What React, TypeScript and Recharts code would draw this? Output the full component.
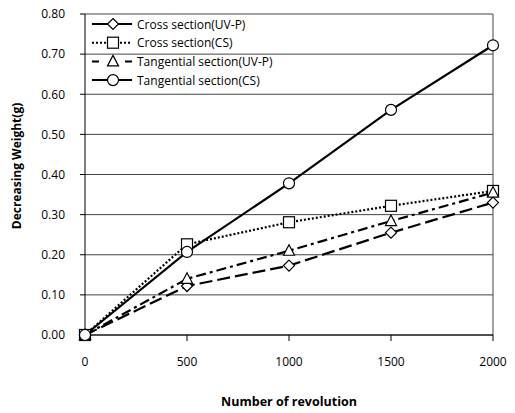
import React from 'react';
import { LineChart, Line, XAxis, YAxis, CartesianGrid, Legend, ReferenceLine } from 'recharts';

const revolutions = [0, 500, 1000, 1500, 2000];
const crossUvp = [0, 0.122, 0.173, 0.255, 0.33];
const crossCs = [0, 0.226, 0.281, 0.322, 0.359];
const tangUvp = [0, 0.14, 0.21, 0.284, 0.355];
const tangCs = [0, 0.207, 0.378, 0.561, 0.722];

const xTicks = [0, 500, 1000, 1500, 2000];
const yTicks = [0, 0.1, 0.2, 0.3, 0.4, 0.5, 0.6, 0.7, 0.8];

const seriesNames = [
  'Cross section(UV-P)',
  'Cross section(CS)',
  'Tangential section(UV-P)',
  'Tangential section(CS)',
];

const data = revolutions.map((r, i) => ({
  rev: r,
  crossUvp: crossUvp[i],
  crossCs: crossCs[i],
  tangUvp: tangUvp[i],
  tangCs: tangCs[i],
}));

const FONT = '"Open Sans", "DejaVu Sans", sans-serif';

type Shape = 'diamond' | 'square' | 'triangle' | 'circle';

function Marker({ cx, cy, shape }: { cx: number; cy: number; shape: Shape }) {
  const common = { fill: '#fff', stroke: '#000', strokeWidth: 1.2 };
  if (shape === 'circle') return <circle cx={cx} cy={cy} r={5.5} {...common} />;
  if (shape === 'square') return <rect x={cx - 5.5} y={cy - 5.5} width={11} height={11} {...common} />;
  if (shape === 'diamond')
    return <polygon points={`${cx},${cy - 5.5} ${cx + 5.5},${cy} ${cx},${cy + 5.5} ${cx - 5.5},${cy}`} {...common} />;
  return <polygon points={`${cx},${cy - 6} ${cx + 5.5},${cy + 4.5} ${cx - 5.5},${cy + 4.5}`} {...common} />;
}

const dotFor = (shape: Shape) => (p: any) =>
  <Marker key={`${shape}-${p.index}`} cx={p.cx} cy={p.cy} shape={shape} />;

// legend drawn like the original (its line styles differ from the plotted ones)
const legendRows: { shape: Shape; dash?: string }[] = [
  { shape: 'diamond' },
  { shape: 'square', dash: '2 2' },
  { shape: 'triangle', dash: '7 26' },
  { shape: 'circle' },
];

function ChartLegend() {
  return (
    <svg width={230} height={80} style={{ display: 'block' }}>
      {legendRows.map((row, i) => {
        const y = 10 + i * 18.7;
        return (
          <g key={i}>
            <line x1={2} x2={42} y1={y} y2={y} stroke="#000" strokeWidth={2} strokeDasharray={row.dash} />
            <Marker cx={23} cy={y} shape={row.shape} />
            <text x={47} y={y + 4.5} fontFamily={FONT} fontSize={12} fill="#000">
              {seriesNames[i]}
            </text>
          </g>
        );
      })}
    </svg>
  );
}

export default function App() {
  return (
    <div style={{ width: 515, height: 413 }}>
      <style>{'body{margin:0}'}</style>
      <LineChart width={515} height={413} data={data} margin={{ top: 14, right: 22, bottom: 0, left: 0 }}>
        <CartesianGrid vertical={false} stroke="#444" strokeWidth={1} />
        <ReferenceLine x={2000} stroke="#444" strokeWidth={1} />
        <XAxis
          dataKey="rev"
          type="number"
          domain={[0, 2000]}
          ticks={xTicks}
          height={78}
          stroke="#000"
          tickSize={6}
          tickMargin={16}
          tick={{ fontFamily: FONT, fontSize: 12, fill: '#000' }}
          label={{
            content: () => (
              <text x={289} y={406} textAnchor="middle" fontFamily={FONT} fontSize={12.5} fontWeight="bold" fill="#000">
                Number of revolution
              </text>
            ),
          }}
        />
        <YAxis
          type="number"
          domain={[0, 0.8]}
          ticks={yTicks}
          width={85}
          stroke="#000"
          tickSize={5}
          tickMargin={15}
          tickFormatter={(v: number) => v.toFixed(2)}
          tick={{ fontFamily: FONT, fontSize: 12, fill: '#000' }}
          label={{
            content: () => (
              <text
                x={21}
                y={166}
                transform="rotate(-90 21 166)"
                textAnchor="middle"
                fontFamily={FONT}
                fontSize={12}
                fontWeight="bold"
                fill="#000"
              >
                Decreasing Weight(g)
              </text>
            ),
          }}
        />
        <Legend
          layout="vertical"
          align="center"
          verticalAlign="middle"
          wrapperStyle={{ position: 'absolute', left: 90, top: 14, width: 230 }}
          content={() => <ChartLegend />}
        />
        <Line
          dataKey="crossUvp"
          name={seriesNames[0]}
          stroke="#000"
          strokeWidth={2.2}
          strokeDasharray="13 5"
          dot={dotFor('diamond')}
          isAnimationActive={false}
        />
        <Line
          dataKey="crossCs"
          name={seriesNames[1]}
          stroke="#000"
          strokeWidth={2.2}
          strokeDasharray="2 2"
          dot={dotFor('square')}
          isAnimationActive={false}
        />
        <Line
          dataKey="tangUvp"
          name={seriesNames[2]}
          stroke="#000"
          strokeWidth={2.2}
          strokeDasharray="10 4 3 4"
          dot={dotFor('triangle')}
          isAnimationActive={false}
        />
        <Line
          dataKey="tangCs"
          name={seriesNames[3]}
          stroke="#000"
          strokeWidth={2.2}
          dot={dotFor('circle')}
          isAnimationActive={false}
        />
      </LineChart>
    </div>
  );
}
